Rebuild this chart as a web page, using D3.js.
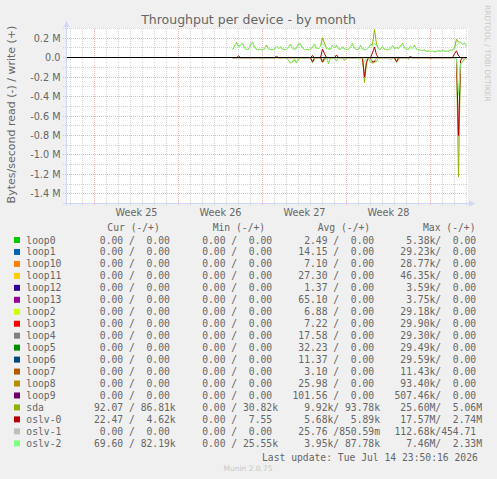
<!DOCTYPE html>
<html>
<head>
<meta charset="utf-8">
<script src="https://cdn.jsdelivr.net/npm/d3@7"></script>
<style>
body { margin: 0; background: #f0f0f0; }
svg { display: block; }
text { fill: #666; font-family: "DejaVu Sans", sans-serif; }
.mono { font-family: "DejaVu Sans Mono", monospace; font-size: 9.7px; white-space: pre; }
</style>
</head>
<body>
<script>
const W = 497, H = 479;

// legend
const devices = ["loop0","loop1","loop10","loop11","loop12","loop13","loop2","loop3","loop4",
  "loop5","loop6","loop7","loop8","loop9","sda","oslv-0","oslv-1","oslv-2"];
const colors = ["#00CC00","#0066B3","#FF8000","#FFCC00","#330099","#990099","#CCFF00","#FF0000","#808080",
  "#008F00","#00487D","#B35A00","#B38F00","#6B006B","#8FB300","#B30000","#BEBEBE","#80FF80"];
const curStats = ["  0.00 /  0.00 ","  0.00 /  0.00 ","  0.00 /  0.00 ","  0.00 /  0.00 ","  0.00 /  0.00 ",
  "  0.00 /  0.00 ","  0.00 /  0.00 ","  0.00 /  0.00 ","  0.00 /  0.00 ","  0.00 /  0.00 ","  0.00 /  0.00 ",
  "  0.00 /  0.00 ","  0.00 /  0.00 ","  0.00 /  0.00 "," 92.07 / 86.81k"," 22.47 /  4.62k","  0.00 /  0.00 ",
  " 69.60 / 82.19k"];
const minStats = ["  0.00 /  0.00 ","  0.00 /  0.00 ","  0.00 /  0.00 ","  0.00 /  0.00 ","  0.00 /  0.00 ",
  "  0.00 /  0.00 ","  0.00 /  0.00 ","  0.00 /  0.00 ","  0.00 /  0.00 ","  0.00 /  0.00 ","  0.00 /  0.00 ",
  "  0.00 /  0.00 ","  0.00 /  0.00 ","  0.00 /  0.00 ","  0.00 / 30.82k","  0.00 /  7.55 ","  0.00 /  0.00 ",
  "  0.00 / 25.55k"];
const avgStats = ["  2.49 /  0.00 "," 14.15 /  0.00 ","  7.10 /  0.00 "," 27.30 /  0.00 ","  1.37 /  0.00 ",
  " 65.10 /  0.00 ","  6.88 /  0.00 ","  7.22 /  0.00 "," 17.58 /  0.00 "," 32.23 /  0.00 "," 11.37 /  0.00 ",
  "  3.10 /  0.00 "," 25.98 /  0.00 ","101.56 /  0.00 ","  9.92k/ 93.78k","  5.68k/  5.89k"," 25.76 /850.59m",
  "  3.95k/ 87.78k"];
const maxStats = ["  5.38k/  0.00 "," 29.23k/  0.00 "," 28.77k/  0.00 "," 46.35k/  0.00 ","  3.59k/  0.00 ",
  "  3.75k/  0.00 "," 29.18k/  0.00 "," 29.90k/  0.00 "," 29.30k/  0.00 "," 29.49k/  0.00 "," 29.59k/  0.00 ",
  " 11.43k/  0.00 "," 93.40k/  0.00 ","507.46k/  0.00 "," 25.60M/  5.06M"," 17.57M/  2.74M","112.68k/454.71 ",
  "  7.46M/  2.33M"];
const headers = ["Cur (-/+)","Min (-/+)","Avg (-/+)","Max (-/+)"];

const weekLabels = ["Week 25","Week 26","Week 27","Week 28"];
const yTicks = [0.2e6, 0, -0.2e6, -0.4e6, -0.6e6, -0.8e6, -1.0e6, -1.2e6, -1.4e6];

// samples every 4 hours from dataStart, kB/s
const dataStart = new Date(Date.UTC(2026, 5, 26, 12));
const stepHours = 4;

const sdaWrite = [82,118,158,115,125,150,100,84,83,130,
  162,110,84,82,83,82,90,130,92,83,
  82,84,118,95,112,88,83,84,105,138,
  96,85,98,140,142,100,84,83,82,86,
  108,140,98,92,118,205,150,95,92,86,
  128,100,128,92,84,112,88,83,84,112,
  145,98,84,86,125,90,83,84,102,132,
  135,290,140,92,84,115,86,83,82,90,
  125,95,102,98,118,148,100,86,84,118,
  92,125,88,82,75,72,78,65,70,62,
  66,60,64,72,66,74,68,64,70,76,
  80,98,190,160,160,135,152,118];
const sdaRead = [0,0,0,0,0,0,0,0,0,0,
  0,0,0,0,12,0,0,0,0,0,
  0,0,0,0,0,0,0,0,30,55,
  45,25,52,20,0,0,0,0,0,0,
  50,20,0,0,0,48,25,0,60,0,
  0,0,35,0,0,0,28,0,0,0,
  0,0,0,18,0,0,255,60,0,48,
  55,45,40,0,0,0,0,0,0,22,
  0,0,48,20,0,0,0,0,16,0,
  0,0,0,0,0,0,0,0,0,10,
  0,0,0,0,0,0,0,0,0,0,
  0,0,0,1225,65,40,20,0];
const oslv0Write = [0,0,0,18,0,0,0,0,0,0,
  0,0,0,0,0,0,0,0,0,0,
  0,0,14,0,0,0,0,0,0,0,
  0,0,0,0,0,0,0,0,0,0,
  22,0,0,0,0,90,40,0,0,0,
  0,0,28,0,0,0,0,0,0,0,
  0,0,0,0,0,0,0,0,0,0,
  50,110,30,0,0,0,0,0,0,0,
  0,0,0,0,0,0,0,0,0,12,
  0,0,0,0,0,0,0,0,0,0,
  0,0,0,0,0,0,0,0,0,0,
  0,40,70,20,0,0,0,0];
const oslv0Read = [0,0,0,0,0,0,0,0,0,0,
  0,0,0,0,0,0,0,0,0,0,
  0,0,0,0,0,0,0,0,0,0,
  0,0,0,0,0,0,0,0,0,0,
  45,0,0,0,0,45,0,0,0,0,
  0,0,0,0,0,0,0,0,0,0,
  0,0,0,0,0,0,200,40,0,0,
  45,40,0,0,0,0,0,0,0,0,
  0,0,42,0,0,0,0,0,0,0,
  0,0,0,0,0,0,0,0,0,0,
  0,0,0,0,0,0,0,0,0,0,
  0,0,0,800,30,0,0,0];
const oslv2Write = [82,118,150,115,125,145,100,84,83,130,
  158,110,84,82,83,82,90,122,92,83,
  82,84,118,95,112,88,83,84,105,132,
  96,85,98,135,142,100,84,83,82,86,
  108,138,98,92,118,145,125,95,92,86,
  128,100,122,92,84,112,88,83,84,112,
  140,98,84,86,125,90,83,84,102,132,
  118,150,122,92,84,115,86,83,82,90,
  125,95,102,98,118,142,100,86,84,118,
  92,120,88,82,75,72,78,65,70,62,
  66,60,64,72,66,74,68,64,70,76,
  80,98,128,150,160,135,148,118];
const oslv2Read = [0,0,0,0,0,0,0,0,0,0,
  0,0,0,0,10,0,0,0,0,0,
  0,0,0,0,0,0,0,0,28,50,
  42,0,48,0,0,0,0,0,0,0,
  0,18,0,0,0,0,0,0,55,0,
  0,0,30,0,0,0,25,0,0,0,
  0,0,0,15,0,0,40,0,0,42,
  0,0,38,0,0,0,0,0,0,20,
  0,0,0,0,0,0,0,0,14,0,
  0,0,0,0,0,0,0,0,0,0,
  0,0,0,0,0,0,0,0,0,0,
  0,0,0,380,62,38,0,0];

const svg = d3.select("body").append("svg").attr("width", W).attr("height", H);
svg.append("rect").attr("width", W).attr("height", H).attr("fill", "#f0f0f0");

const x = d3.scaleUtc()
  .domain([new Date(Date.UTC(2026, 5, 12, 17)), new Date(Date.UTC(2026, 6, 16, 1))])
  .range([67, 467]);
const y = d3.scaleLinear().domain([-1.5e6, 0.3e6]).range([203.5, 28.5]);
const px = v => Math.floor(v) + 0.5;

// canvas
svg.append("rect").attr("x", 67).attr("y", 28).attr("width", 401).attr("height", 176).attr("fill", "#fff");

// grid
const minorCol = "#d4d4d4", majorCol = "#f2b4b4";
const grid = svg.append("g").attr("shape-rendering", "crispEdges").attr("stroke-dasharray", "1,1");
const majorY = new Set(yTicks.map(v => Math.round(v / 1e5)));
grid.selectAll("line.h").data(y.ticks(18).filter(v => v > -1.5e6)).enter().append("line")
  .attr("x1", 63).attr("x2", 467)
  .attr("y1", d => px(y(d))).attr("y2", d => px(y(d)))
  .attr("stroke", d => majorY.has(Math.round(d / 1e5)) ? majorCol : minorCol);
grid.selectAll("line.v").data(d3.utcDay.range(x.domain()[0], x.domain()[1])).enter().append("line")
  .attr("x1", d => px(x(d))).attr("x2", d => px(x(d)))
  .attr("y1", 28.5).attr("y2", 206)
  .attr("stroke", d => d.getUTCDay() === 1 ? majorCol : minorCol);

// axes lines + arrows
const axisCol = "#CFD6F8";
svg.append("line").attr("x1", 66.5).attr("x2", 66.5).attr("y1", 206).attr("y2", 25)
  .attr("stroke", axisCol).attr("shape-rendering", "crispEdges");
svg.append("path").attr("d", "M63.5,27L69.5,27L66.5,21Z").attr("fill", axisCol);
svg.append("line").attr("x1", 63).attr("x2", 471).attr("y1", 203.5).attr("y2", 203.5)
  .attr("stroke", axisCol).attr("shape-rendering", "crispEdges");
svg.append("path").attr("d", "M469,200.5L469,206.5L475,203.5Z").attr("fill", axisCol);

// series
const timeAt = i => new Date(dataStart.getTime() + i * stepHours * 3600e3);
const line = d3.line().x((d, i) => x(timeAt(i))).y(d => y(d * 1000));
const series = [
  { values: sdaRead.map(v => -v), color: colors[14] },
  { values: sdaWrite, color: colors[14] },
  { values: oslv0Read.map(v => -v), color: colors[15] },
  { values: oslv0Write, color: colors[15] },
  { values: oslv2Read.map(v => -v), color: colors[17] },
  { values: oslv2Write, color: colors[17] }
];
svg.append("g").selectAll("path").data(series).enter().append("path")
  .attr("d", d => line(d.values))
  .attr("fill", "none")
  .attr("stroke", d => d.color)
  .attr("stroke-width", 1);

// zero line
svg.append("line").attr("x1", 67).attr("x2", 467).attr("y1", px(y(0))).attr("y2", px(y(0)))
  .attr("stroke", "#000").attr("shape-rendering", "crispEdges");

// y labels
svg.append("g").selectAll("text").data(yTicks).enter().append("text")
  .attr("x", 60.5).attr("y", d => px(y(d)) + 3.5)
  .attr("text-anchor", "end").attr("font-size", 9.7)
  .text(d => d === 0 ? "0.0" : (d / 1e6).toFixed(1) + " M");

// week labels
const mondays = d3.utcMonday.range(x.domain()[0], x.domain()[1]);
const weekMids = mondays.map(d => d3.utcHour.offset(d, 84)).filter(d => d < x.domain()[1]);
svg.append("g").selectAll("text").data(weekMids).enter().append("text")
  .attr("x", d => x(d)).attr("y", 216.2)
  .attr("text-anchor", "middle").attr("font-size", 9.7)
  .text((d, i) => weekLabels[i]);

// titles
svg.append("text").attr("x", 248.5).attr("y", 23.5).attr("text-anchor", "middle")
  .attr("font-size", 12.5).text("Throughput per device - by month");
svg.append("text").attr("transform", "translate(15,114.5) rotate(-90)").attr("text-anchor", "middle")
  .attr("font-size", 11).text("Bytes/second read (-) / write (+)");
svg.append("text").attr("transform", "translate(485,5) rotate(90)")
  .attr("font-size", 7.5).style("fill", "#c8c8c8").text("RRDTOOL / TOBI OETIKER");

// legend
const headerX = [107.3, 212.7, 317.7, 423];
const colX = [88.2, 190.5, 292.5, 394.5];
const rowY = i => 243.5 + i * 11.96;
svg.append("g").selectAll("text").data(headers).enter().append("text")
  .attr("class", "mono").attr("x", (d, i) => headerX[i]).attr("y", 230.9).text(d => d);

const rows = svg.append("g").selectAll("g").data(devices).enter().append("g");
rows.append("rect").attr("x", 14).attr("y", (d, i) => rowY(i) - 6.5).attr("width", 6).attr("height", 6)
  .attr("fill", (d, i) => colors[i]);
rows.append("text").attr("class", "mono").attr("x", 26.3).attr("y", (d, i) => rowY(i)).text(d => d);
[curStats, minStats, avgStats, maxStats].forEach((col, c) => {
  rows.append("text").attr("class", "mono").attr("xml:space", "preserve")
    .attr("x", colX[c]).attr("y", (d, i) => rowY(i)).text((d, i) => col[i]);
});

svg.append("text").attr("class", "mono").attr("x", 262).attr("y", 460.8)
  .text("Last update: Tue Jul 14 23:50:16 2026");
svg.append("text").attr("x", 248).attr("y", 470.5).attr("text-anchor", "middle")
  .attr("font-size", 7.5).style("fill", "#c8c8c8").text("Munin 2.0.75");
</script>
</body>
</html>
